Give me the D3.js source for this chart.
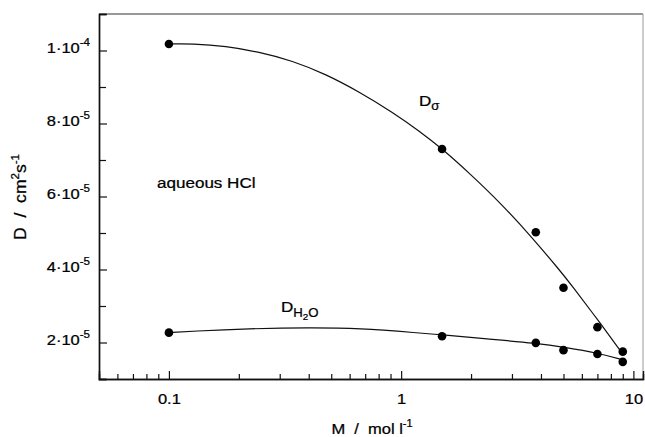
<!DOCTYPE html>
<html>
<head>
<meta charset="utf-8">
<script src="https://cdn.jsdelivr.net/npm/d3@7"></script>
<style>
  body { margin: 0; background: #fff; }
  svg text { font-family: "Liberation Sans", Arial, Helvetica, sans-serif; fill: #000; stroke: #000; stroke-width: 0.25; }
</style>
</head>
<body>
<div id="chart"></div>
<script>
// measured points: HCl concentration (mol/l) and diffusion coefficients (cm2/s)
const conc = [0.1, 1.5, 3.8, 5.0, 7.0, 9.0];
const dSigma = [1.018e-4, 7.30e-5, 5.02e-5, 3.50e-5, 2.42e-5, 1.75e-5];
const dWater = [2.27e-5, 2.17e-5, 1.99e-5, 1.79e-5, 1.685e-5, 1.47e-5];

// hand-drawn fit curves
const fitSigmaX = [0.1, 0.126, 0.176, 0.244, 0.340, 0.474, 0.659, 0.918, 1.20, 1.50, 1.96, 2.73, 3.68, 4.80, 5.39, 7.26, 9.06];
const fitSigmaY = [1.018e-4, 1.019e-4, 1.012e-4, 9.96e-5, 9.72e-5, 9.35e-5, 8.87e-5, 8.31e-5, 7.79e-5, 7.31e-5, 6.65e-5, 5.77e-5, 4.86e-5, 3.99e-5, 3.59e-5, 2.50e-5, 1.66e-5];
const fitWaterX = [0.1, 0.126, 0.221, 0.401, 0.659, 1.20, 1.50, 2.32, 3.82, 5.09, 7.06, 9.06];
const fitWaterY = [2.27e-5, 2.31e-5, 2.38e-5, 2.41e-5, 2.39e-5, 2.26e-5, 2.21e-5, 2.10e-5, 1.98e-5, 1.87e-5, 1.71e-5, 1.52e-5];

// axis ticks
const xMajor = [0.1, 1, 10];
const xMajorLabels = ["0.1", "1", "10"];
const xMinor = [0.06, 0.07, 0.08, 0.09, 0.2, 0.3, 0.4, 0.5, 0.6, 0.7, 0.8, 0.9, 2, 3, 4, 5, 6, 7, 8, 9];
const yMajor = [2e-5, 4e-5, 6e-5, 8e-5, 1e-4];
const yMantissa = ["2", "4", "6", "8", "1"];
const yExponent = ["-5", "-5", "-5", "-5", "-4"];
const yMinor = [3e-5, 5e-5, 7e-5, 9e-5];

const W = 645, H = 437;
const SX = 1.1; // the scanned lettering is a little wide

const svg = d3.select("#chart").append("svg")
  .attr("width", W).attr("height", H);

const x = d3.scaleLog().domain([0.05, 11]).range([99, 643]);
const y = d3.scaleLinear().domain([1e-5, 1.1e-4]).range([379, 14]);

const [x0, x1] = x.range();
const [y0, y1] = y.range();

// top and right edges of the frame (the right one is faint in the scan)
svg.append("line")
  .attr("x1", x0).attr("x2", x1).attr("y1", y1).attr("y2", y1)
  .attr("stroke", "#333").attr("stroke-width", 1.2);
svg.append("line")
  .attr("x1", x1).attr("x2", x1).attr("y1", y1).attr("y2", y0)
  .attr("stroke", "#999").attr("stroke-width", 1);

// bottom axis: minor ticks, then major ticks with labels
const xMinorG = svg.append("g")
  .attr("transform", `translate(0,${y0})`)
  .call(d3.axisBottom(x).tickValues(xMinor).tickSize(-5).tickFormat(""));
const xMajorG = svg.append("g")
  .attr("transform", `translate(0,${y0})`)
  .call(d3.axisBottom(x).tickValues(xMajor).tickSize(-8).tickPadding(14)
    .tickFormat((d, i) => xMajorLabels[i]));

// left axis
const yMinorG = svg.append("g")
  .attr("transform", `translate(${x0},0)`)
  .call(d3.axisLeft(y).tickValues(yMinor).tickSize(-7).tickFormat(""));
const yMajorG = svg.append("g")
  .attr("transform", `translate(${x0},0)`)
  .call(d3.axisLeft(y).tickValues(yMajor).tickSize(-8).tickPadding(8).tickFormat(""));

[xMinorG, xMajorG, yMinorG, yMajorG].forEach(g => {
  g.select(".domain").attr("stroke", "#111").attr("stroke-width", 1.4);
  g.selectAll(".tick line").attr("stroke", "#111").attr("stroke-width", 1.2);
});

xMajorG.selectAll(".tick text")
  .attr("font-size", 15)
  .attr("transform", `scale(${SX},1)`);

yMajorG.selectAll(".tick").each(function (d, i) {
  const t = d3.select(this).append("text")
    .attr("x", -9 / SX).attr("y", 2)
    .attr("transform", `scale(${SX},1)`)
    .attr("text-anchor", "end")
    .attr("font-size", 15);
  t.append("tspan").text(yMantissa[i] + "\u00b710");
  t.append("tspan").attr("dy", -7).attr("font-size", 10.5).text(yExponent[i]);
});

// fit curves, smoothed through the read-off points
const line = d3.line()
  .x(d => x(d[0]))
  .y(d => y(d[1]))
  .curve(d3.curveBasis);

svg.append("path")
  .datum(d3.zip(fitSigmaX, fitSigmaY))
  .attr("d", line)
  .attr("fill", "none").attr("stroke", "#111").attr("stroke-width", 1.2);
svg.append("path")
  .datum(d3.zip(fitWaterX, fitWaterY))
  .attr("d", line)
  .attr("fill", "none").attr("stroke", "#111").attr("stroke-width", 1.2);

// data points
const pts = d3.zip(conc, dSigma).concat(d3.zip(conc, dWater));
svg.append("g").selectAll("circle")
  .data(pts).join("circle")
  .attr("cx", d => x(d[0]))
  .attr("cy", d => y(d[1]))
  .attr("r", 4.3)
  .attr("fill", "#000");

// free labels
function label(px, py, size) {
  return svg.append("g").attr("transform", `translate(${px},${py})`)
    .append("text")
    .attr("transform", `scale(${SX},1)`)
    .attr("font-size", size);
}

label(157, 188, 15.5).text("aqueous HCl");

const ds = label(419, 106, 15.5);
ds.append("tspan").text("D");
ds.append("tspan").attr("dy", 4).attr("font-size", 12).text("\u03c3");

const dw = label(281, 311.7, 15.5);
dw.append("tspan").text("D");
dw.append("tspan").attr("dy", 5.5).attr("font-size", 12).text("H");
dw.append("tspan").attr("dy", 2.5).attr("font-size", 9).text("2");
dw.append("tspan").attr("dy", -2.5).attr("font-size", 12).text("O");

// axis titles
const xt = label(372, 434, 15).attr("text-anchor", "middle");
xt.append("tspan").text("M\u00a0\u00a0/\u00a0\u00a0mol l");
xt.append("tspan").attr("dy", -7).attr("font-size", 10).text("-1");

const yt = svg.append("g").attr("transform", "translate(26,197) rotate(-90)")
  .append("text")
  .attr("transform", `scale(${SX},1)`)
  .attr("text-anchor", "middle").attr("font-size", 16);
yt.append("tspan").text("D\u00a0\u00a0/\u00a0\u00a0cm");
yt.append("tspan").attr("dy", -7).attr("font-size", 10.5).text("2");
yt.append("tspan").attr("dy", 7).text("s");
yt.append("tspan").attr("dy", -7).attr("font-size", 10.5).text("-1");
</script>
</body>
</html>
